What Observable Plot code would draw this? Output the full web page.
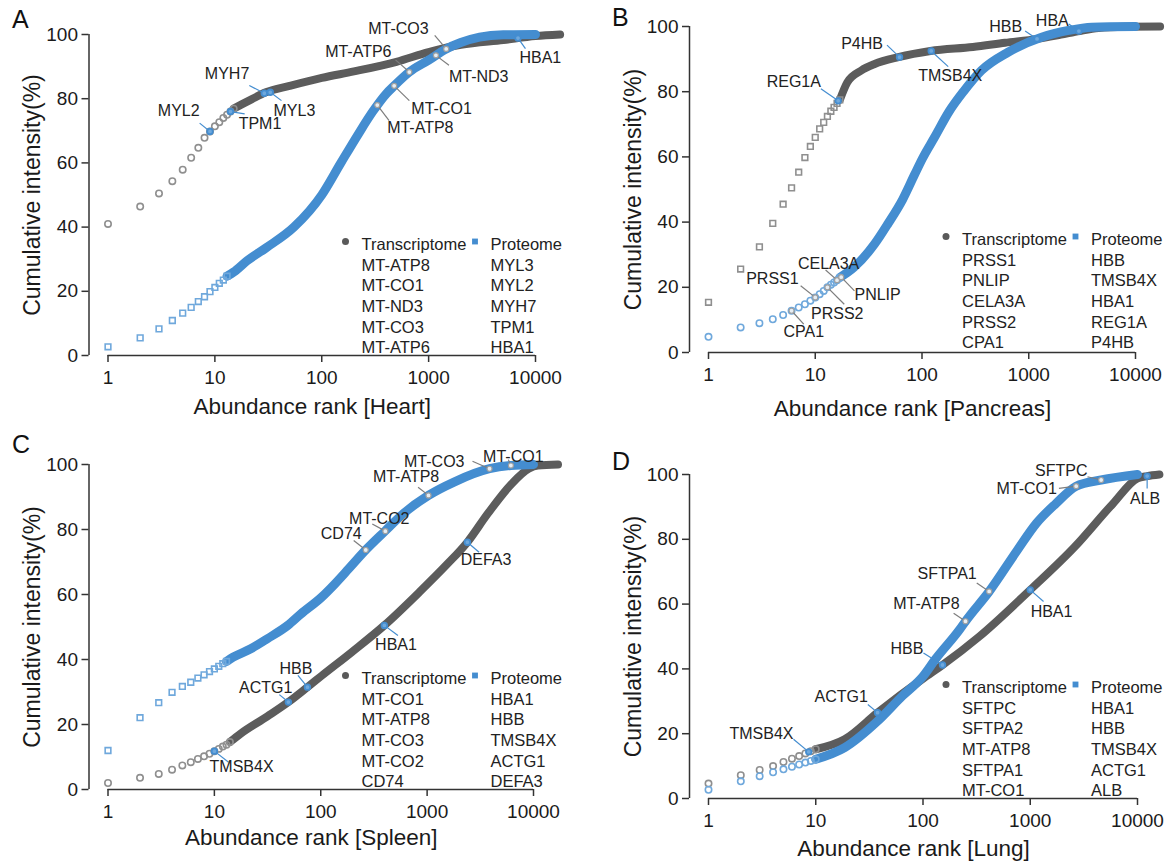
<!DOCTYPE html>
<html><head><meta charset="utf-8">
<script src="https://cdn.jsdelivr.net/npm/d3@7"></script>
<script src="https://cdn.jsdelivr.net/npm/@observablehq/plot@0.6"></script>
<style>
html,body{margin:0;padding:0;background:#fff;}
#root{position:relative;width:1175px;height:863px;overflow:hidden;font-family:"Liberation Sans",Arial,Helvetica,sans-serif;}
.panel{position:absolute;}
.panel svg{overflow:visible;}
.letter{position:absolute;font-size:25px;line-height:1;color:#111;}
</style></head><body>
<div id="root"></div>
<script>
// ---------- axis ticks ----------
const xTicks = [1, 10, 100, 1000, 10000];
const yTicks = [0, 20, 40, 60, 80, 100];

// ---------- Panel A: Heart ----------
const heartTranscriptRanks  = [1,2,3,4,5,6,7,8,9,10,11,12,13,14,15,18,22,30,50,100,200,500,1000,2000,5000,10000,17000];
const heartTranscriptValues = [41,46.4,50.5,54.3,57.9,61.6,64.7,67.8,69.8,71.4,72.7,74,75,76,76.9,78.3,79.8,82,84,86.5,88.5,91.5,94.5,96.8,98.3,99.5,100];
const heartProteinRanks  = [1,2,3,4,5,6,7,8,9,10,11,12,13,15,20,30,55,100,151,220,300,400,476,660,1000,1460,2000,3000,5000,10000];
const heartProteinValues = [2.7,5.5,8.3,10.9,13.2,15,16.8,18.3,19.9,21.2,22.5,23.5,24.7,26,29.5,33.5,40,50,60,69,76,81.5,84,88.3,92,95.5,97.5,99.2,99.9,100];
const heartTranscriptTop = ["MT-ATP8","MT-CO1","MT-ND3","MT-CO3","MT-ATP6"];
const heartProteinTop    = ["MYL3","MYL2","MYH7","TPM1","HBA1"];
const heartNotes = [
  {gene:"MYL2",   on:"T", rank:9,    value:69.8, lrank:7.2,  lvalue:72.4, anchor:"end",    dx:0,  dy:-12},
  {gene:"TPM1",   on:"T", rank:14,   value:76,   lrank:19,   lvalue:75.3, anchor:"start",  dx:-6, dy:10},
  {gene:"MYH7",   on:"T", rank:29,   value:81.7, lrank:21,   lvalue:84.1, anchor:"end",    dx:0,  dy:-12},
  {gene:"MYL3",   on:"T", rank:33,   value:82,   lrank:42,   lvalue:79.4, anchor:"start",  dx:-8, dy:10},
  {gene:"HBA1",   on:"T", rank:6860, value:98.9, lrank:8050, lvalue:95.6, anchor:"start",  dx:-6, dy:9},
  {gene:"MT-ATP6",on:"P", rank:660,  value:88.3, lrank:490,  lvalue:92.1, anchor:"end",    dx:-4, dy:-8},
  {gene:"MT-CO3", on:"P", rank:1460, value:95.5, lrank:1140, lvalue:99.7, anchor:"end",    dx:-6, dy:-7},
  {gene:"MT-ND3", on:"P", rank:1170, value:93.5, lrank:1550, lvalue:90.4, anchor:"start",  dx:0,  dy:12},
  {gene:"MT-CO1", on:"P", rank:476,  value:84,   lrank:660,  lvalue:79.4, anchor:"start",  dx:2,  dy:8},
  {gene:"MT-ATP8",on:"P", rank:331,  value:78,   lrank:427,  lvalue:73.2, anchor:"start",  dx:-2, dy:7}
];

// ---------- Panel B: Pancreas ----------
const pancreasTranscriptRanks  = [1,2,3,4,5,6,7,8,9,10,11,12,13,14,15,16,17,20,27,36,60,120,300,600,1200,2000,3000,4500,8000,17000];
const pancreasTranscriptValues = [15.4,25.6,32.4,39.6,45.5,50.5,55.3,59.8,63.2,66,68.6,70.6,72.4,74,75.2,76.4,77.5,82.9,86.5,88.5,90.6,92.5,93.7,95,96.2,97.5,98.6,99.5,99.9,100];
const pancreasProteinRanks  = [1,2,3,4,5,6,7,8,9,10,11,12,13,14,15,16,17,23,36,48,66,85,101,131,180,244,360,640,1320,2360,3900,10000];
const pancreasProteinValues = [4.8,7.7,9,10.2,11.5,12.8,13.8,14.8,15.9,16.9,17.9,18.9,20,20.8,21.5,22.2,23,26.1,33.3,39.5,47,54.5,59.5,66,74,80,86.5,92.1,96.7,98.8,99.8,100];
const pancreasTranscriptTop = ["PRSS1","PNLIP","CELA3A","PRSS2","CPA1"];
const pancreasProteinTop    = ["HBB","TMSB4X","HBA1","REG1A","P4HB"];
const pancreasNotes = [
  {gene:"REG1A", on:"T", rank:16.4, value:77.2, lrank:11.3, lvalue:80.9, anchor:"end",    dx:0,  dy:-7},
  {gene:"P4HB",  on:"T", rank:61.6, value:90.6, lrank:47,   lvalue:94.3, anchor:"end",    dx:-4, dy:-1},
  {gene:"TMSB4X",on:"T", rank:122,  value:92.5, lrank:176,  lvalue:87.7, anchor:"middle", dx:2,  dy:9},
  {gene:"HBB",   on:"T", rank:1196, value:96.2, lrank:925,  lvalue:98.6, anchor:"end",    dx:-3, dy:-4},
  {gene:"HBA",   on:"T", rank:2950, value:98.6, lrank:2370, lvalue:100.8,anchor:"end",    dx:0,  dy:-3},
  {gene:"PRSS1", on:"P", rank:10,   value:16.9, lrank:7.3,  lvalue:20.5, anchor:"end",    dx:-2, dy:-7},
  {gene:"PRSS2", on:"P", rank:13,   value:20,   lrank:18.7, lvalue:14.8, anchor:"middle", dx:-7, dy:10},
  {gene:"CELA3A",on:"P", rank:16,   value:22.2, lrank:12.5, lvalue:25.3, anchor:"middle", dx:3,  dy:-6},
  {gene:"PNLIP", on:"P", rank:17.5, value:23.1, lrank:23.3, lvalue:18.9, anchor:"start",  dx:0,  dy:4},
  {gene:"CPA1",  on:"P", rank:6,    value:12.8, lrank:7.8,  lvalue:8.7,  anchor:"middle", dx:0,  dy:8}
];

// ---------- Panel C: Spleen ----------
const spleenTranscriptRanks  = [1,2,3,4,5,6,7,8,9,10,11,12,13,14,17.5,31.5,49.6,75,102,196,396,850,1530,2390,3700,6210,9000,11000,17000];
const spleenTranscriptValues = [2,3.6,4.8,6.1,7.4,8.4,9.4,10.2,11,11.8,12.5,13.2,13.8,14.6,17.1,22.5,26.9,31.5,35,42.3,50.5,60.8,69.2,76.1,84.8,94,98.7,99.7,100];
const spleenProteinRanks  = [1,2,3,4,5,6,7,8,9,10,11,12,13,15,22,31.5,49,65,102,136,183,265,402,594,1030,1790,3860,6130,10000];
const spleenProteinValues = [12,22.1,26.7,29.9,31.7,33,34.3,35.3,36.3,37.1,37.9,38.7,39.4,40.7,43.3,46.4,50.5,54,59.2,63.3,67.9,73.7,79.5,84.8,90.5,94.6,98.7,99.7,100];
const spleenTranscriptTop = ["MT-CO1","MT-ATP8","MT-CO3","MT-CO2","CD74"];
const spleenProteinTop    = ["HBA1","HBB","TMSB4X","ACTG1","DEFA3"];
const spleenNotes = [
  {gene:"TMSB4X", on:"T", rank:10,   value:11.8, lrank:13.6, lvalue:8.4,  anchor:"middle", dx:13, dy:5},
  {gene:"ACTG1",  on:"T", rank:49.6, value:26.9, lrank:40.8, lvalue:29.2, anchor:"end",    dx:13, dy:-7},
  {gene:"HBB",    on:"T", rank:75,   value:31.5, lrank:61,   lvalue:35.1, anchor:"middle", dx:-2, dy:-7},
  {gene:"HBA1",   on:"T", rank:396,  value:50.5, lrank:532,  lvalue:47.4, anchor:"middle", dx:-2, dy:9},
  {gene:"DEFA3",  on:"T", rank:2390, value:76.1, lrank:3080, lvalue:73,   anchor:"middle", dx:7,  dy:8},
  {gene:"CD74",   on:"P", rank:265,  value:73.7, lrank:204,  lvalue:76.6, anchor:"end",    dx:8,  dy:-7},
  {gene:"MT-CO2", on:"P", rank:405,  value:79.5, lrank:305,  lvalue:81.7, anchor:"middle", dx:7,  dy:-5},
  {gene:"MT-ATP8",on:"P", rank:1030, value:90.5, lrank:822,  lvalue:93,   anchor:"middle", dx:-12,dy:-10},
  {gene:"MT-CO3", on:"P", rank:3860, value:98.7, lrank:2670, lvalue:101,  anchor:"end",    dx:-8, dy:1},
  {gene:"MT-CO1", on:"P", rank:6130, value:99.7, lrank:5800, lvalue:101.5,anchor:"middle", dx:5,  dy:-3}
];

// ---------- Panel D: Lung ----------
const lungTranscriptRanks  = [1,2,3,4,5,6,7,8,9,10,18.6,37.7,100,152,335,1000,2600,5900,10000,12300,16000];
const lungTranscriptValues = [4.6,7.2,8.8,10,11.3,12.3,13.1,13.9,14.6,15.2,18.3,26.5,37,41.2,50,64.4,77.7,91,98.8,99.5,100];
const lungProteinRanks  = [1,2,3,4,5,6,7,8,9,10,18.6,37.8,64,100,130,220,249,414,760,1140,1730,2680,4580,10000];
const lungProteinValues = [2.7,5.3,6.9,8.1,9,9.8,10.5,11.1,11.6,12.1,15.7,23.9,31.6,37.7,42.9,52.2,54.7,63.9,76.7,84.9,91,96.4,98.3,100];
const lungTranscriptTop = ["SFTPC","SFTPA2","MT-ATP8","SFTPA1","MT-CO1"];
const lungProteinTop    = ["HBA1","HBB","TMSB4X","ACTG1","ALB"];
const lungNotes = [
  {gene:"TMSB4X", on:"T", rank:8.6,   value:14.4, lrank:6.2,   lvalue:18.3, anchor:"end",    dx:0,  dy:-5},
  {gene:"ACTG1",  on:"T", rank:37.7,  value:26.5, lrank:30.6,  lvalue:29,   anchor:"end",    dx:0,  dy:-8},
  {gene:"HBB",    on:"T", rank:152,   value:41.2, lrank:101,   lvalue:44.9, anchor:"end",    dx:0,  dy:-4},
  {gene:"HBA1",   on:"T", rank:1000,  value:64.4, lrank:1330,  lvalue:60.8, anchor:"middle", dx:8,  dy:10},
  {gene:"ALB",    on:"T", rank:12300, value:99.5, lrank:12300, lvalue:95.7, anchor:"middle", dx:-2, dy:10},
  {gene:"SFTPA1", on:"P", rank:414,   value:63.9, lrank:317,   lvalue:66.5, anchor:"end",    dx:0,  dy:-9},
  {gene:"MT-ATP8",on:"P", rank:249,   value:54.7, lrank:193,   lvalue:57.2, anchor:"end",    dx:6,  dy:-9},
  {gene:"SFTPC",  on:"P", rank:4580,  value:98.3, lrank:3420,  lvalue:99.3, anchor:"end",    dx:0,  dy:-6},
  {gene:"MT-CO1", on:"P", rank:2680,  value:96.4, lrank:1850,  lvalue:95.7, anchor:"end",    dx:-2, dy:0}
];

// ---------- layout / style ----------
const FONT = "Liberation Sans, Arial, Helvetica, sans-serif";
const GRAY = "#5c5c5c", BLUE = "#448dd0";
const GRAY_OPEN = "#8f8f8f", BLUE_OPEN = "#6fa8dc";
const AX = "#333", TX = "#1a1a1a";

const panels = [
  {letter:"A", tissue:"Heart", left:0, top:0, width:587, height:430, ml:88.5, mr:52, mt:34, mb:75, titleDy:51,
   tR:heartTranscriptRanks, tV:heartTranscriptValues, tN:15, tSym:"circle",
   pR:heartProteinRanks, pV:heartProteinValues, pN:13, pSym:"square",
   tTop:heartTranscriptTop, pTop:heartProteinTop, notes:heartNotes, legY:207, lx:12, ly:7},
  {letter:"B", tissue:"Pancreas", left:587, top:0, width:588, height:430, ml:102, mr:40, mt:26, mb:78, titleDy:56,
   tR:pancreasTranscriptRanks, tV:pancreasTranscriptValues, tN:17, tSym:"square",
   pR:pancreasProteinRanks, pV:pancreasProteinValues, pN:17, pSym:"circle",
   tTop:pancreasTranscriptTop, pTop:pancreasProteinTop, notes:pancreasNotes, legY:210, lx:612, ly:5},
  {letter:"C", tissue:"Spleen", left:0, top:430, width:587, height:433, ml:88.5, mr:54, mt:34, mb:74, titleDy:48,
   tR:spleenTranscriptRanks, tV:spleenTranscriptValues, tN:14, tSym:"circle",
   pR:spleenProteinRanks, pV:spleenProteinValues, pN:13, pSym:"square",
   tTop:spleenTranscriptTop, pTop:spleenProteinTop, notes:spleenNotes, legY:211, lx:12, ly:432},
  {letter:"D", tissue:"Lung", left:587, top:430, width:588, height:433, ml:102, mr:38, mt:44, mb:65, titleDy:50,
   tR:lungTranscriptRanks, tV:lungTranscriptValues, tN:10, tSym:"circle",
   pR:lungProteinRanks, pV:lungProteinValues, pN:10, pSym:"circle",
   tTop:lungTranscriptTop, pTop:lungProteinTop, notes:lungNotes, legY:210, lx:612, ly:449}
];

const LEG = {dot:256.5, t1:272.5, sq:386, t2:401.5, fs:16.5, lh:20.6};

function buildPanel(p) {
  const T = p.tR.map((r, i) => ({rank: r, value: p.tV[i]}));
  const P = p.pR.map((r, i) => ({rank: r, value: p.pV[i]}));
  const tDots = T.slice(0, p.tN), pDots = P.slice(0, p.pN);
  const tLine = T.slice(p.tN - 1), pLine = P.slice(p.pN - 1);
  const onT = p.notes.filter(d => d.on === "T");
  const onP = p.notes.filter(d => d.on === "P");
  const legT = ["Transcriptome", ...p.tTop].join("\n");
  const legP = ["Proteome", ...p.pTop].join("\n");
  const x0 = xTicks[0], x1 = xTicks[xTicks.length - 1];
  const y0 = yTicks[0], y1 = yTicks[yTicks.length - 1];

  return Plot.plot({
    width: p.width, height: p.height,
    marginLeft: p.ml, marginRight: p.mr, marginTop: p.mt, marginBottom: p.mb,
    style: {fontFamily: FONT, background: "transparent", overflow: "visible"},
    x: {type: "log", domain: [x0, x1], insetLeft: 19},
    y: {domain: [y0, y1]},
    marks: [
      // axes (R-style detached)
      Plot.ruleX([x0], {y1: y0, y2: y1, dx: -19, stroke: AX, strokeWidth: 1.5}),
      Plot.ruleY([y0], {x1: x0, x2: x1, stroke: AX, strokeWidth: 1.5}),
      Plot.axisY(yTicks, {anchor: "left", tickSize: 7, tickPadding: 4, fontSize: 19, stroke: AX, strokeWidth: 1.5, fill: TX, label: null}),
      Plot.axisX(xTicks, {anchor: "bottom", tickSize: 7, tickPadding: 8, fontSize: 19, tickFormat: d => String(d), stroke: AX, strokeWidth: 1.5, fill: TX, label: null}),
      Plot.text([`Abundance rank [${p.tissue}]`], {frameAnchor: "bottom", textAnchor: "middle", lineAnchor: "middle", dy: p.titleDy, fontSize: 22.5, fill: TX, fontFamily: FONT}),
      Plot.text(["Cumulative intensity(%)"], {frameAnchor: "left", textAnchor: "middle", lineAnchor: "middle", rotate: -90, dx: -56, fontSize: 23, fill: TX, fontFamily: FONT}),
      // dense bands
      Plot.line(tLine, {x: "rank", y: "value", curve: "monotone-x", stroke: GRAY, strokeWidth: 8}),
      Plot.line(pLine, {x: "rank", y: "value", curve: "monotone-x", stroke: BLUE, strokeWidth: 9}),
      // first ranks as open symbols
      Plot.dot(tDots, {x: "rank", y: "value", symbol: p.tSym, r: 3.2, stroke: GRAY_OPEN, strokeWidth: 1.6, fill: "white", fillOpacity: 0}),
      Plot.dot(pDots, {x: "rank", y: "value", symbol: p.pSym, r: 3.2, stroke: BLUE_OPEN, strokeWidth: 1.6, fill: "white", fillOpacity: 0}),
      // leader lines
      Plot.link(onT, {x1: "rank", y1: "value", x2: "lrank", y2: "lvalue", stroke: BLUE, strokeWidth: 1.2}),
      Plot.link(onP, {x1: "rank", y1: "value", x2: "lrank", y2: "lvalue", stroke: "#7d7d7d", strokeWidth: 1.2}),
      // highlighted genes
      Plot.dot(onT, {x: "rank", y: "value", r: 2.8, stroke: BLUE, strokeWidth: 1.8, fill: BLUE_OPEN}),
      Plot.dot(onP, {x: "rank", y: "value", r: 2.5, stroke: "#a0a0a0", strokeWidth: 1.2, fill: "#e6edf3"}),
      // gene labels
      ...p.notes.map(d => Plot.text([d], {x: "lrank", y: "lvalue", text: "gene", textAnchor: d.anchor, dx: d.dx, dy: d.dy, fontSize: 16, fill: "#222", fontFamily: FONT})),
      // legend
      Plot.dot([0], {frameAnchor: "top-left", dx: LEG.dot, dy: p.legY, r: 3.5, fill: "#5a5a5a"}),
      Plot.dot([0], {frameAnchor: "top-left", dx: LEG.sq, dy: p.legY, r: 3.3, symbol: "square", fill: BLUE}),
      Plot.text([legT], {frameAnchor: "top-left", dx: LEG.t1, dy: p.legY - 6, textAnchor: "start", lineAnchor: "top", lineHeight: LEG.lh / LEG.fs, fontSize: LEG.fs, fill: "#222", fontFamily: FONT}),
      Plot.text([legP], {frameAnchor: "top-left", dx: LEG.t2, dy: p.legY - 6, textAnchor: "start", lineAnchor: "top", lineHeight: LEG.lh / LEG.fs, fontSize: LEG.fs, fill: "#222", fontFamily: FONT})
    ]
  });
}

const root = document.getElementById("root");
for (const p of panels) {
  const div = document.createElement("div");
  div.className = "panel";
  div.style.left = p.left + "px";
  div.style.top = p.top + "px";
  div.appendChild(buildPanel(p));
  root.appendChild(div);
  const lab = document.createElement("div");
  lab.className = "letter";
  lab.style.left = p.lx + "px";
  lab.style.top = p.ly + "px";
  lab.textContent = p.letter;
  root.appendChild(lab);
}
</script>
</body></html>
